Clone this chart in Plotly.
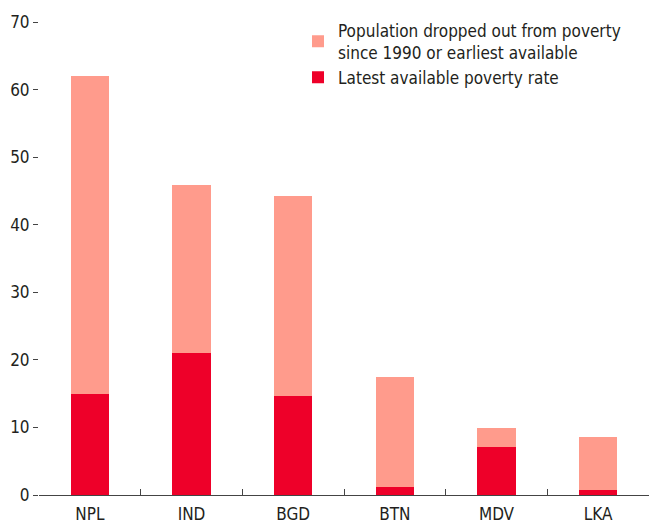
import plotly.graph_objects as go

countries = ["NPL", "IND", "BGD", "BTN", "MDV", "LKA"]
latest_rate = [15.0, 21.0, 14.7, 1.2, 7.1, 0.7]
dropped_out = [47.0, 24.9, 29.6, 16.3, 2.8, 7.9]
y_ticks = [0, 10, 20, 30, 40, 50, 60, 70]

LIGHT = "#FF9B8C"
RED = "#EE0029"
TXT = "#231F20"
FONT = "DejaVu Sans Condensed, DejaVu Sans, sans-serif"

fig = go.Figure()
fig.add_trace(go.Bar(x=countries, y=latest_rate, name="Latest available poverty rate",
                     marker=dict(color=RED, line=dict(width=0)), width=0.375))
fig.add_trace(go.Bar(x=countries, y=dropped_out,
                     name="Population dropped out from poverty<br>since 1990 or earliest available",
                     marker=dict(color=LIGHT, line=dict(width=0)), width=0.375))

fig.update_layout(
    barmode="stack",
    width=652, height=525,
    margin=dict(l=39, r=3, t=22, b=30, autoexpand=False),
    plot_bgcolor="white", paper_bgcolor="white",
    font=dict(family=FONT, size=17, color=TXT),
    legend=dict(x=0.4246, y=1.02, xanchor="left", yanchor="top",
                traceorder="reversed", font=dict(size=17, color=TXT),
                bgcolor="rgba(0,0,0,0)", itemwidth=30, tracegroupgap=0),
)
fig.update_xaxes(
    range=[-0.5, 5.5], showline=True, linecolor="#444", linewidth=1,
    ticks="inside", tickson="boundaries", ticklen=6, tickcolor="#444",
    showgrid=False, tickfont=dict(size=17, color=TXT), fixedrange=True,
    ticklabelstandoff=4, automargin=False,
)
fig.update_yaxes(
    range=[0, 70], tickvals=y_ticks, showline=False, showgrid=False, zeroline=False,
    ticks="outside", ticklen=5, tickcolor="#444", tickfont=dict(size=17, color=TXT),
    fixedrange=True, automargin=False,
)

fig.write_html("out.html", config={"displayModeBar": False},
               post_script="document.body.style.margin='0';")
